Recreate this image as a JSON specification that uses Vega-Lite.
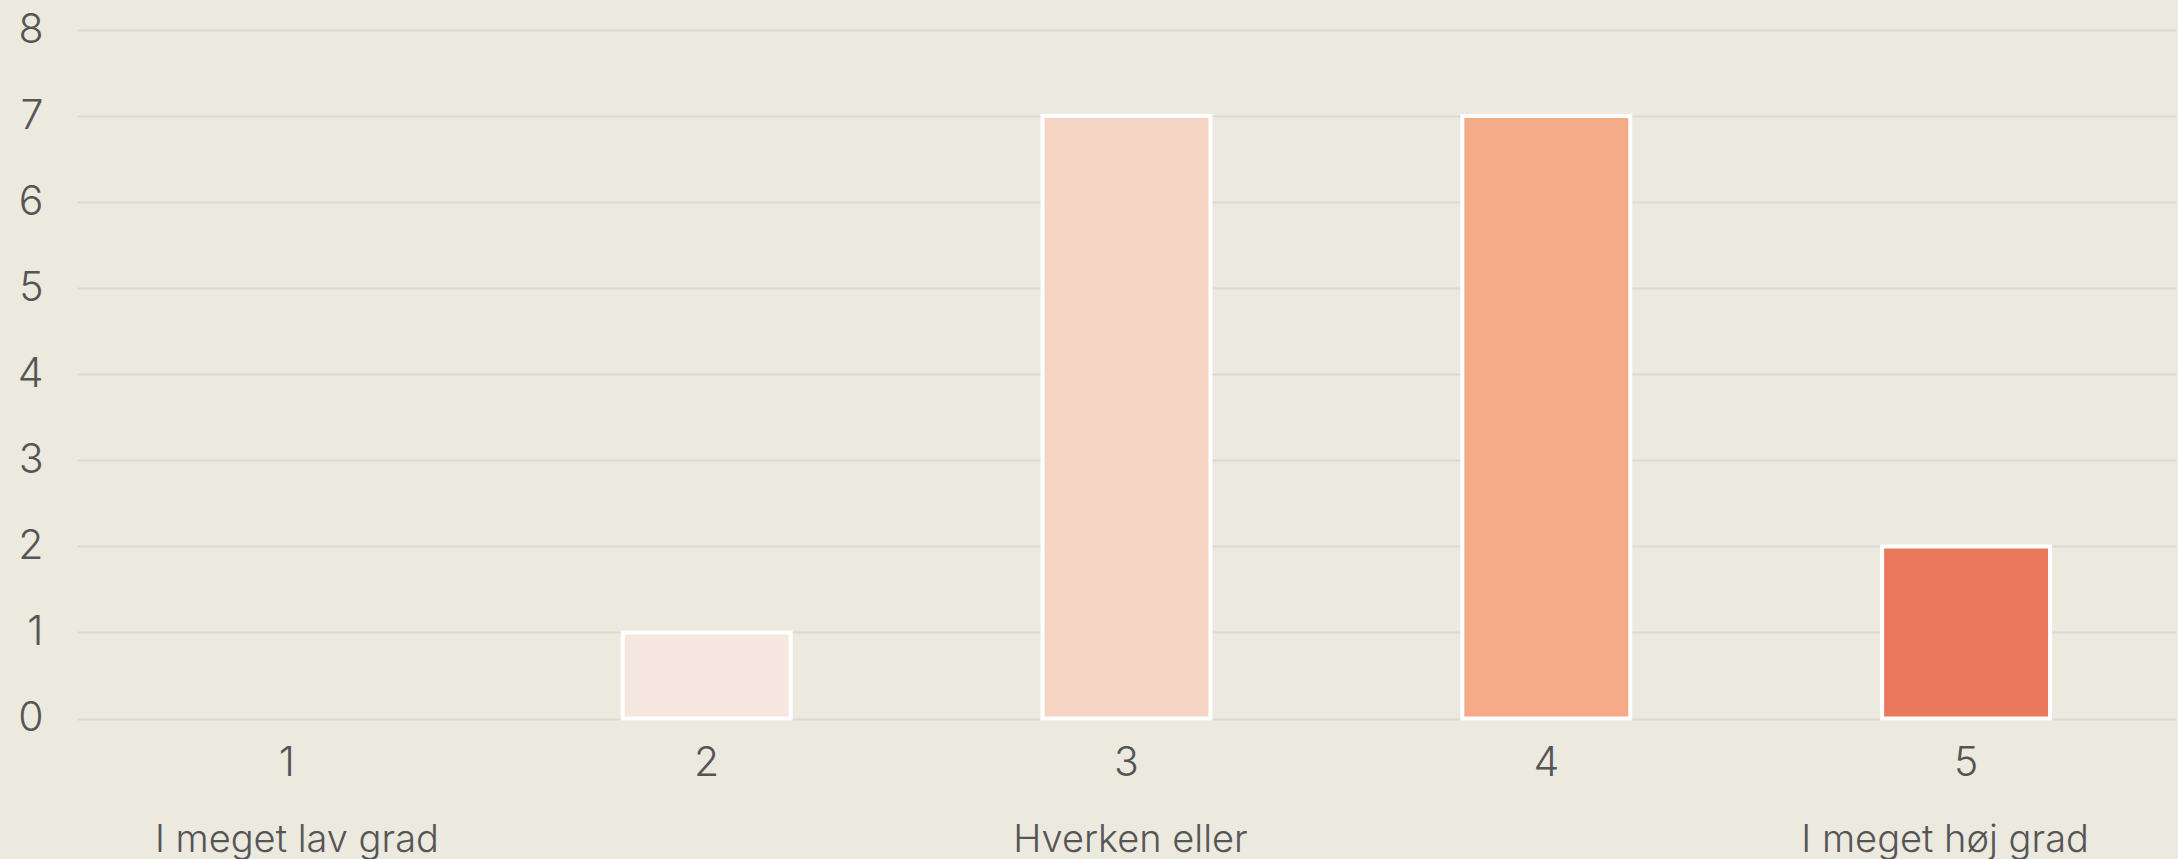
{
  "$schema": "https://vega.github.io/schema/vega-lite/v6.json",
  "autosize": "none",
  "width": 2099,
  "height": 688.5,
  "padding": {"left": 77, "top": 30, "right": 2, "bottom": 140.5},
  "background": "#ECE9DF",
  "config": {
    "view": {"stroke": null},
    "font": "Inter",
    "text": {"font": "Inter"},
    "axis": {"labelFont": "Inter", "labelFontWeight": 300, "labelColor": "#555555", "domain": false, "ticks": false, "tickSize": 0}
  },
  "data": {
    "values": [
      {"svar": "1", "antal": 0, "tekst": "I meget lav grad"},
      {"svar": "2", "antal": 1, "tekst": ""},
      {"svar": "3", "antal": 7, "tekst": "Hverken eller"},
      {"svar": "4", "antal": 7, "tekst": ""},
      {"svar": "5", "antal": 2, "tekst": "I meget høj grad"}
    ]
  },
  "encoding": {
    "x": {
      "field": "svar",
      "type": "ordinal",
      "sort": null,
      "scale": {"paddingInner": 0.6, "paddingOuter": 0.3},
      "axis": {"title": null, "labelAngle": 0, "labelFontSize": 41, "labelPadding": 25, "grid": false}
    }
  },
  "layer": [
    {
      "mark": {"type": "bar", "strokeWidth": 4},
      "encoding": {
        "y": {
          "field": "antal",
          "type": "quantitative",
          "scale": {"domain": [0, 8], "nice": false},
          "axis": {
            "title": null,
            "values": [0, 1, 2, 3, 4, 5, 6, 7, 8],
            "format": "d",
            "labelFontSize": 41,
            "labelPadding": 34,
            "gridColor": "#D9D9D5",
            "gridWidth": 2
          }
        },
        "color": {
          "field": "svar",
          "type": "nominal",
          "scale": {"domain": ["1", "2", "3", "4", "5"], "range": ["#F8EEE8", "#F5E6DF", "#F5D4C4", "#F6AB88", "#E9785D"]},
          "legend": null
        },
        "stroke": {
          "condition": {"test": "datum.antal > 0", "value": "#FFFFFF"},
          "value": "transparent"
        }
      }
    },
    {
      "transform": [{"filter": "datum.svar == '1'"}],
      "mark": {"type": "text", "fontSize": 38, "fontWeight": 300, "color": "#555555", "baseline": "alphabetic", "align": "center", "dx": 10},
      "encoding": {
        "y": {"datum": -1.548, "type": "quantitative"},
        "text": {"field": "tekst"}
      }
    },
    {
      "transform": [{"filter": "datum.svar == '3'"}],
      "mark": {"type": "text", "fontSize": 38, "fontWeight": 300, "color": "#555555", "baseline": "alphabetic", "align": "center", "dx": 4},
      "encoding": {
        "y": {"datum": -1.548, "type": "quantitative"},
        "text": {"field": "tekst"}
      }
    },
    {
      "transform": [{"filter": "datum.svar == '5'"}],
      "mark": {"type": "text", "fontSize": 38, "fontWeight": 300, "color": "#555555", "baseline": "alphabetic", "align": "center", "dx": -21},
      "encoding": {
        "y": {"datum": -1.548, "type": "quantitative"},
        "text": {"field": "tekst"}
      }
    }
  ]
}
